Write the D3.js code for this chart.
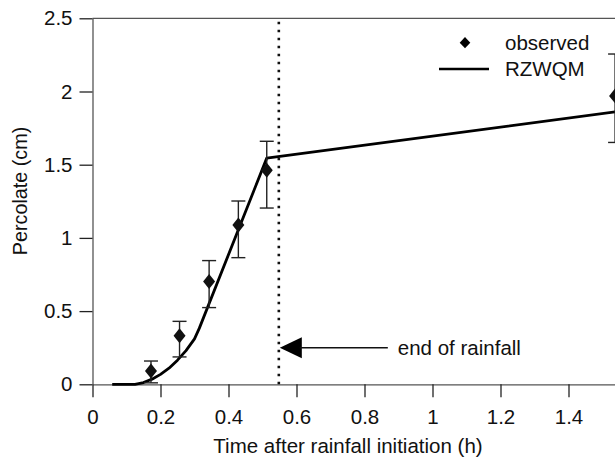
<!DOCTYPE html>
<html>
<head>
<meta charset="utf-8">
<script src="https://cdn.jsdelivr.net/npm/d3@7/dist/d3.min.js"></script>
<style>
  html, body { margin: 0; padding: 0; background: #fff; }
  svg { display: block; font-family: "Liberation Sans", Arial, Helvetica, sans-serif; }
</style>
</head>
<body>
<svg id="chart" width="615" height="459"></svg>
<script>
// ---- data ----
const obsTime = [0.172, 0.256, 0.343, 0.429, 0.5125, 1.537];
const obsValue = [0.09, 0.332, 0.703, 1.088, 1.462, 1.97];
const obsLow = [0.01, 0.187, 0.524, 0.865, 1.204, 1.652];
const obsHigh = [0.159, 0.43, 0.845, 1.252, 1.66, 2.256];

const modelTime = [0.058, 0.125, 0.15, 0.175, 0.2, 0.225, 0.25, 0.275, 0.3, 0.314, 0.5125, 1.6];
const modelValue = [0, 0, 0.012, 0.035, 0.068, 0.11, 0.165, 0.23, 0.31, 0.382, 1.545, 1.88];

const rainEnd = [0.548];
const arrowAt = [0.25];

const xTicks = [0, 0.2, 0.4, 0.6, 0.8, 1, 1.2, 1.4];
const yTicks = [0, 0.5, 1, 1.5, 2, 2.5];
const legendLabels = ["observed", "RZWQM"];
const annotationText = ["end of rainfall"];
const xTitle = ["Time after rainfall initiation (h)"];
const yTitle = ["Percolate (cm)"];

// ---- layout ----
const svg = d3.select("#chart");
const padLeft = 92.5, padTop = 18.3, padBottom = 384.3;
const x = d3.scaleLinear().domain([0, 1.6]).range([padLeft, padLeft + 544]);
const y = d3.scaleLinear().domain([0, 2.5]).range([padBottom, padTop]);
const FS = 20.5;
const axisGray = "#555";
const tickCol = "#222";

// top frame
svg.append("line")
  .attr("x1", x(0)).attr("x2", x(1.6))
  .attr("y1", y(2.5)).attr("y2", y(2.5))
  .attr("stroke", axisGray).attr("stroke-width", 1.3);

// x axis (domain line runs past the visible window, as in the reference)
const gx = svg.append("g").attr("transform", `translate(0,${padBottom})`)
  .call(d3.axisBottom(x).tickValues(xTicks).tickSize(13).tickSizeOuter(0).tickPadding(12)
    .tickFormat(d3.format("~g")));
gx.select(".domain").attr("stroke", axisGray).attr("stroke-width", 1.3);
gx.selectAll(".tick line").attr("stroke", tickCol).attr("stroke-width", 1.3);
gx.selectAll(".tick text").attr("font-size", FS).attr("fill", "#111")
  .attr("font-family", "Liberation Sans, Arial, sans-serif");

// y axis
const gy = svg.append("g").attr("transform", `translate(${padLeft},0)`)
  .call(d3.axisLeft(y).tickValues(yTicks).tickSize(13).tickSizeOuter(0).tickPadding(7)
    .tickFormat(d3.format("~g")));
gy.select(".domain").attr("stroke", axisGray).attr("stroke-width", 1.3);
gy.selectAll(".tick line").attr("stroke", tickCol).attr("stroke-width", 1.3);
gy.selectAll(".tick text").attr("font-size", FS).attr("fill", "#111")
  .attr("font-family", "Liberation Sans, Arial, sans-serif");

// end of rainfall dotted line
svg.append("line")
  .attr("x1", x(rainEnd[0])).attr("x2", x(rainEnd[0]))
  .attr("y1", y(0)).attr("y2", y(2.5))
  .attr("stroke", "#111").attr("stroke-width", 2.6)
  .attr("stroke-dasharray", "2.6,5.4").attr("stroke-dashoffset", 0);

// model line
const modelData = modelTime.map((t, i) => [t, modelValue[i]]);
svg.append("path").datum(modelData)
  .attr("fill", "none").attr("stroke", "#000").attr("stroke-width", 2.8)
  .attr("stroke-linejoin", "round")
  .attr("d", d3.line().x(d => x(d[0])).y(d => y(d[1])));

// error bars
const obs = obsTime.map((t, i) => ({t, v: obsValue[i], lo: obsLow[i], hi: obsHigh[i]}));
const eb = svg.append("g").attr("stroke", "#222").attr("stroke-width", 1.4);
eb.selectAll(".v").data(obs).join("line")
  .attr("x1", d => x(d.t)).attr("x2", d => x(d.t))
  .attr("y1", d => y(d.lo)).attr("y2", d => y(d.hi));
eb.selectAll(".h").data(obs).join("line")
  .attr("x1", d => x(d.t) - 7).attr("x2", d => x(d.t) + 7)
  .attr("y1", d => y(d.hi)).attr("y2", d => y(d.hi));
eb.selectAll(".l").data(obs).join("line")
  .attr("x1", d => x(d.t) - 7).attr("x2", d => x(d.t) + 7)
  .attr("y1", d => y(d.lo)).attr("y2", d => y(d.lo));

// diamonds
const diamond = (w, h) => `M0,${-h}L${w},0L0,${h}L${-w},0Z`;
svg.append("g").selectAll("path").data(obs).join("path")
  .attr("transform", d => `translate(${x(d.t)},${y(d.v)})`)
  .attr("d", diamond(6, 7.5)).attr("fill", "#111");

// legend
svg.append("path").attr("transform", "translate(465,42.7)")
  .attr("d", diamond(5.3, 5.6)).attr("fill", "#000");
svg.append("text").attr("x", 505).attr("y", 50).attr("font-size", FS).attr("fill", "#111")
  .text(legendLabels[0]);
svg.append("line").attr("x1", 439).attr("x2", 489).attr("y1", 69).attr("y2", 69)
  .attr("stroke", "#000").attr("stroke-width", 2.6);
svg.append("text").attr("x", 505).attr("y", 76).attr("font-size", FS).attr("fill", "#111")
  .text(legendLabels[1]);

// annotation arrow
const ax = x(rainEnd[0]) + 1, ay = y(arrowAt[0]);
svg.append("path")
  .attr("d", `M${ax},${ay}L${ax + 22},${ay - 10.5}L${ax + 22},${ay + 10.5}Z`)
  .attr("fill", "#000");
svg.append("line").attr("x1", ax + 20).attr("x2", ax + 108).attr("y1", ay).attr("y2", ay)
  .attr("stroke", "#111").attr("stroke-width", 1.5);
svg.append("text").attr("x", ax + 118).attr("y", ay + 7.5).attr("font-size", FS).attr("fill", "#111")
  .text(annotationText[0]);

// axis titles
svg.append("text").attr("x", 348).attr("y", 453).attr("text-anchor", "middle")
  .attr("font-size", FS).attr("fill", "#111").text(xTitle[0]);
svg.append("text").attr("transform", "translate(27,191) rotate(-90)")
  .attr("text-anchor", "middle").attr("font-size", 19.8).attr("fill", "#111").text(yTitle[0]);
</script>
</body>
</html>
